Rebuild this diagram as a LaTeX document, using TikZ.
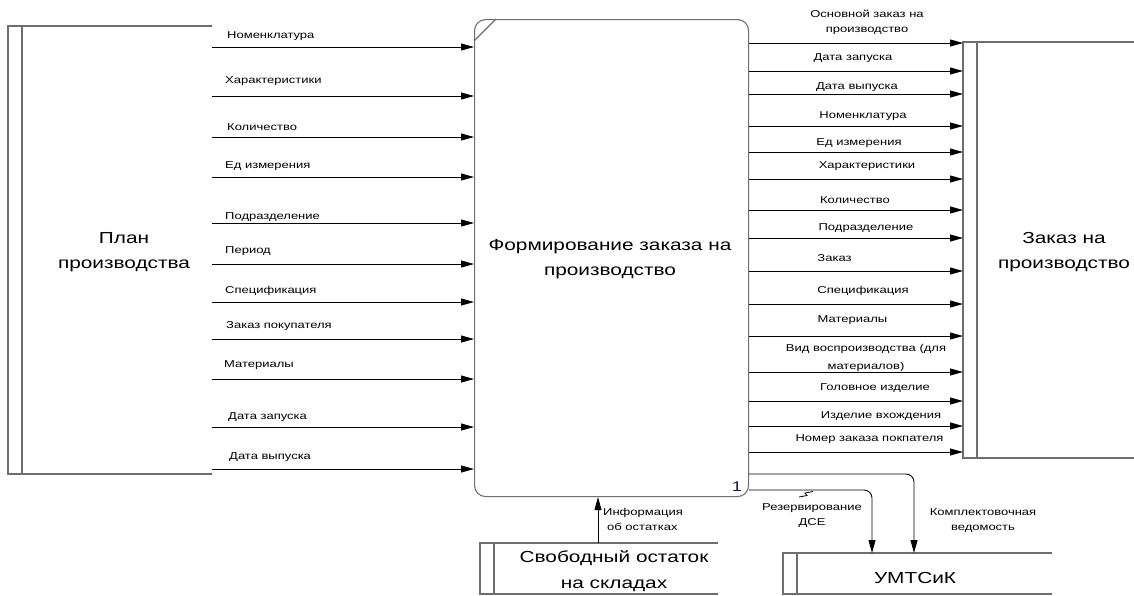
\documentclass[tikz,border=0pt]{standalone}
\usepackage{fontspec}
\setmainfont{Liberation Sans}
\newfontfamily\lab{Liberation Sans}[FakeStretch=1.3]
\usetikzlibrary{arrows.meta,calc}
\definecolor{boxgray}{HTML}{6E6E6E}
\definecolor{numblue}{HTML}{1A1A40}
\tikzset{
  arr/.style={draw=black, line width=0.9pt, -{Triangle[length=13pt,width=7pt]}},
  gline/.style={draw=boxgray, line width=1.1pt},
  lbl/.style={font=\lab\fontsize{10}{15}\selectfont, inner sep=0pt},
  big/.style={font=\lab\fontsize{16}{25}\selectfont, align=center, inner sep=0pt},
  storebox/.style={anchor=north west, inner sep=0pt, outer sep=0pt},
}
\begin{document}
\begin{tikzpicture}[x=1pt,y=-1pt]
\useasboundingbox (0,0) rectangle (1134,595);
% process box
\node[draw=boxgray, line width=1.1pt, rounded corners=11pt, anchor=north west,
      minimum width=274pt, minimum height=477pt, inner sep=0pt] (proc) at (474,19) {};
\draw[gline] ($(proc.north west)+(0,22)$) -- ($(proc.north west)+(22,0)$);
\node[big] at (610,259.5) {Формирование заказа на\\производство};
\node[font=\lab\fontsize{14}{16}\selectfont, text=numblue, inner sep=0pt] (num) at (737,486.5) {1};
% stores
\node[storebox, minimum width=204pt, minimum height=448pt] (plan) at (8,26) {};
\draw[gline] (plan.north east) -- (plan.north west) -- (plan.south west) -- (plan.south east);
\draw[gline] ($(plan.north west)+(14,0)$) -- ($(plan.south west)+(14,0)$);
\node[big] at (124,252.5) {План\\производства};

\node[storebox, minimum width=171pt, minimum height=416pt] (zak) at (963,42) {};
\draw[gline] (zak.north east) -- (zak.north west) -- (zak.south west) -- (zak.south east);
\draw[gline] ($(zak.north west)+(14,0)$) -- ($(zak.south west)+(14,0)$);
\node[big] at (1064,252.5) {Заказ на\\производство};

\node[storebox, minimum width=238pt, minimum height=51pt] (svob) at (480,543) {};
\draw[gline] (svob.north east) -- (svob.north west) -- (svob.south west) -- (svob.south east);
\draw[gline] ($(svob.north west)+(14,0)$) -- ($(svob.south west)+(14,0)$);
\node[big, font=\lab\fontsize{16}{26}\selectfont] at (614,571) {Свободный остаток\\на складах};

\node[storebox, minimum width=269pt, minimum height=41pt] (umt) at (783,553) {};
\draw[gline] (umt.north east) -- (umt.north west) -- (umt.south west) -- (umt.south east);
\draw[gline] ($(umt.north west)+(14,0)$) -- ($(umt.south west)+(14,0)$);
\node[big] at (915,578) {УМТСиК};

% left inputs
\foreach \y/\lx/\ly/\t in {47/227/36/Номенклатура, 96/225/81/Характеристики, 137/227/127/Количество,
  177/225/166/Ед измерения, 223/225/217/Подразделение, 264/225/251/Период, 302/225/291/Спецификация,
  339/226/326/Заказ покупателя, 379/224/365/Материалы, 427/228/417/Дата запуска, 469/229/457/Дата выпуска}{
  \draw[arr] (plan.east |- 0,\y) -- (proc.west |- 0,\y);
  \node[lbl, anchor=west] at (\lx,\ly) {\t};
}
% right outputs
\foreach \y/\lx/\ly/\t in {71/853/58/Дата запуска, 94/857/87/Дата выпуска, 126/863/116/Номенклатура,
  152/859/143/Ед измерения, 179/867/166/Характеристики, 210/855/200.5/Количество, 238/866/228/Подразделение,
  271/834.5/258/Заказ, 304/863/291/Спецификация, 336/852.5/320/Материалы, 401/875/388/Головное изделие,
  426/881/416/Изделие вхождения, 452/869.5/439/Номер заказа покпателя}{
  \draw[arr] (proc.east |- 0,\y) -- (zak.west |- 0,\y);
  \node[lbl] at (\lx,\ly) {\t};
}
\draw[arr] (proc.east |- 0,43) -- (zak.west |- 0,43);
\node[lbl, align=center] at (867,22.5) {Основной заказ на\\производство};
\draw[arr] (proc.east |- 0,372) -- (zak.west |- 0,372);
\node[lbl, align=center, font=\lab\fontsize{10}{18}\selectfont] at (866,357.5) {Вид воспроизводства (для\\материалов)};

% bottom
\draw[arr] (598,0 |- svob.north) -- (598,0 |- proc.south);
\node[lbl, anchor=north west, align=left] at (603,508) {Информация\\\hspace*{4pt}об остатках};

\draw[arr, rounded corners=8pt] (proc.east |- 0,490) -| (872,0 |- umt.north);
\draw[line width=0.8pt] (799,497) -- (807,495.5) -- (805,493) -- (813,491.5);
\node[lbl, align=center] at (812,516) {Резервирование\\ДСЕ};

\draw[arr, rounded corners=8pt] (proc.east |- 0,474) -| (914,0 |- umt.north);
\node[lbl, align=center] at (983,521) {Комплектовочная\\ведомость};
\end{tikzpicture}
\end{document}
